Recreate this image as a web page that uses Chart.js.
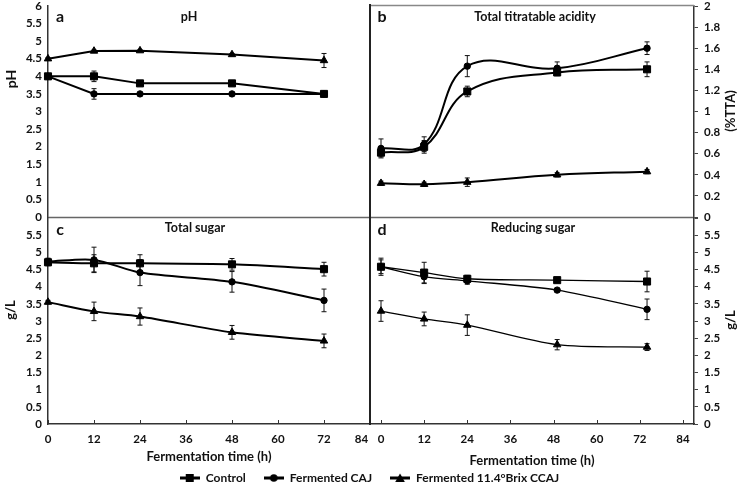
<!DOCTYPE html>
<html><head><meta charset="utf-8">
<script src="https://cdn.jsdelivr.net/npm/chart.js@4.4.1/dist/chart.umd.min.js"></script>
<style>
html,body{margin:0;padding:0;background:#fff;}
#wrap{position:relative;width:739px;height:492px;overflow:hidden;}
canvas{position:absolute;left:0;top:0;}
</style></head><body>
<div id="wrap">
<canvas id="pa" width="739" height="492"></canvas>
<canvas id="pb" width="739" height="492"></canvas>
<canvas id="pc" width="739" height="492"></canvas>
<canvas id="pd" width="739" height="492"></canvas>
<canvas id="leg" width="739" height="62" style="top:430px"></canvas>
</div>
<script>
// ---------- data ----------
const seriesNames = ['Control', 'Fermented CAJ', 'Fermented 11.4°Brix CCAJ'];
const timesLeft  = [0, 12, 24, 48, 72];
const timesRight = [0, 12, 24, 49, 74];
const xTickValues = [0, 12, 24, 36, 48, 60, 72, 84];
const yTicksPH = [0, 0.5, 1, 1.5, 2, 2.5, 3, 3.5, 4, 4.5, 5, 5.5, 6];
const yTicksTTA = [0, 0.2, 0.4, 0.6, 0.8, 1, 1.2, 1.4, 1.6, 1.8, 2];
const yTicksSugar = [0, 0.5, 1, 1.5, 2, 2.5, 3, 3.5, 4, 4.5, 5, 5.5, 6];

// (a) pH
const phControl = [4.0, 4.0, 3.8, 3.8, 3.5];
const phCaj     = [4.0, 3.5, 3.5, 3.5, 3.5];
const phBrix    = [4.5, 4.72, 4.73, 4.62, 4.45];
const phControlErr = [0.04, 0.15, 0.04, 0.04, 0.05];
const phCajErr     = [0.04, 0.15, 0.03, 0.03, 0.05];
const phBrixErr    = [0.03, 0.03, 0.03, 0.03, 0.2];

// (b) total titratable acidity (%TTA)
const ttaControl = [0.61, 0.665, 1.19, 1.37, 1.40];
const ttaCaj     = [0.65, 0.69, 1.43, 1.41, 1.60];
const ttaBrix    = [0.32, 0.31, 0.33, 0.40, 0.43];
const ttaControlErr = [0.04, 0.06, 0.05, 0.03, 0.07];
const ttaCajErr     = [0.09, 0.07, 0.10, 0.06, 0.06];
const ttaBrixErr    = [0.02, 0.02, 0.04, 0.02, 0.02];

// (c) total sugar (g/L)
const tsControl = [4.71, 4.68, 4.68, 4.65, 4.51];
const tsCaj     = [4.73, 4.78, 4.41, 4.14, 3.60];
const tsBrix    = [3.55, 3.28, 3.13, 2.67, 2.42];
const tsControlErr = [0.10, 0.25, 0.25, 0.17, 0.20];
const tsCajErr     = [0.10, 0.37, 0.38, 0.30, 0.33];
const tsBrixErr    = [0.05, 0.27, 0.25, 0.20, 0.20];

// (d) reducing sugar (g/L)
const rsControl = [4.58, 4.41, 4.23, 4.19, 4.15];
const rsCaj     = [4.58, 4.29, 4.17, 3.90, 3.34];
const rsBrix    = [3.29, 3.06, 2.88, 2.31, 2.24];
const rsControlErr = [0.25, 0.30, 0.10, 0.05, 0.30];
const rsCajErr     = [0.20, 0.20, 0.10, 0.05, 0.30];
const rsBrixErr    = [0.30, 0.20, 0.30, 0.15, 0.10];

// ---------- styling ----------
const FAM = 'Lato, "Open Sans", sans-serif';
const tickFont = {family: FAM, weight: 'bold', size: 11.5, lineHeight: 1.1};
const titleFont = {family: FAM, weight: 'bold', size: 13};
const TXT = '#111';
const pointStyles = ['rect', 'circle', 'triangle'];
const pointRadii = [5, 3.2, 4.3];

function fmt(v) { return String(Math.round(v * 10) / 10); }

function decor(o) {
  return {
    id: 'decor' + o.letter,
    beforeDatasetsDraw(chart) {
      const ctx = chart.ctx, ys = chart.scales.y;
      ctx.save();
      ctx.strokeStyle = '#111';
      ctx.lineWidth = 1;
      chart.data.datasets.forEach((ds, i) => {
        const meta = chart.getDatasetMeta(i);
        const errs = o.errors[i];
        meta.data.forEach((pt, j) => {
          const v = ds.data[j].y, e = errs[j];
          const y1 = ys.getPixelForValue(v + e), y2 = ys.getPixelForValue(v - e);
          const x = pt.x;
          ctx.beginPath();
          ctx.moveTo(x, y1); ctx.lineTo(x, y2);
          ctx.moveTo(x - 2.5, y1); ctx.lineTo(x + 2.5, y1);
          ctx.moveTo(x - 2.5, y2); ctx.lineTo(x + 2.5, y2);
          ctx.stroke();
        });
      });
      ctx.restore();
    },
    afterDraw(chart) {
      const ctx = chart.ctx, ca = chart.chartArea;
      ctx.save();
      if (o.bottomLine) {
        ctx.strokeStyle = '#666'; ctx.lineWidth = 1.5;
        ctx.beginPath(); ctx.moveTo(ca.left, ca.bottom + 0.5); ctx.lineTo(ca.right, ca.bottom + 0.5); ctx.stroke();
      }
      if (o.topLine) {
        ctx.strokeStyle = '#888'; ctx.lineWidth = 1.5;
        ctx.beginPath(); ctx.moveTo(ca.left, ca.top - 0.5); ctx.lineTo(ca.right, ca.top - 0.5); ctx.stroke();
      }
      if (o.leftDivider) {
        ctx.strokeStyle = '#222'; ctx.lineWidth = 2;
        ctx.beginPath(); ctx.moveTo(ca.left, o.divTop); ctx.lineTo(ca.left, o.divBottom); ctx.stroke();
      }
      if (o.showX) {
        const xs = chart.scales.x;
        ctx.strokeStyle = '#333'; ctx.lineWidth = 1;
        xTickValues.forEach(v => {
          const px = Math.round(xs.getPixelForValue(v)) + 0.5;
          ctx.beginPath(); ctx.moveTo(px, ca.bottom); ctx.lineTo(px, ca.bottom - 4); ctx.stroke();
        });
      }
      ctx.fillStyle = TXT;
      ctx.textBaseline = 'middle';
      ctx.textAlign = 'center';
      ctx.font = 'bold 16px ' + FAM;
      ctx.fillText(o.letter, ca.left + 12, ca.top + o.letterDy);
      ctx.font = 'bold 12.5px ' + FAM;
      ctx.fillText(o.title, o.titleX, ca.top + o.titleDy);
      ctx.font = 'bold ' + o.yTitleSize + 'px ' + FAM;
      ctx.translate(o.yTitleX, o.yTitleY);
      ctx.rotate(-Math.PI / 2);
      ctx.fillText(o.yTitle, 0, 0);
      ctx.restore();
    }
  };
}

function makePanel(id, o) {
  return new Chart(document.getElementById(id), {
    type: 'line',
    data: {
      datasets: o.series.map((vals, i) => ({
        label: seriesNames[i],
        data: o.x.map((t, k) => ({x: t, y: vals[k]})),
        borderColor: '#000', backgroundColor: '#000',
        borderWidth: o.lw, tension: o.tension,
        pointStyle: pointStyles[i], pointRadius: pointRadii[i], pointHoverRadius: pointRadii[i],
        pointBackgroundColor: '#000', pointBorderColor: '#000', pointBorderWidth: 1,
        clip: false
      }))
    },
    options: {
      responsive: false, animation: false, events: [],
      layout: {padding: o.pad},
      plugins: {legend: {display: false}, tooltip: {enabled: false}},
      scales: {
        x: {
          type: 'linear', min: o.xMin, max: o.xMax, display: o.showX,
          afterBuildTicks: s => { s.ticks = xTickValues.map(v => ({value: v})); },
          afterFit: s => { if (o.showX) s.height = o.xH; s.paddingLeft = 0; s.paddingRight = 0; },
          grid: {display: false, drawTicks: false},
          border: {display: o.showX, color: '#333', width: 1.5},
          ticks: {padding: 9, font: tickFont, color: TXT, maxRotation: 0, autoSkip: false,
                  callback: v => (o.shiftLast && v === 84) ? '84\u2003\u2003' : fmt(v)},
          title: {display: o.showX, text: 'Fermentation time (h)', font: titleFont, color: TXT, padding: {top: 0, bottom: 3}}
        },
        y: {
          type: 'linear', position: o.side, min: o.yMin, max: o.yMax,
          afterBuildTicks: s => { s.ticks = o.yTicks.map(v => ({value: v})); },
          afterFit: s => { s.width = o.yW; s.paddingTop = 0; s.paddingBottom = 0; },
          grid: {display: o.side === 'right', drawOnChartArea: false, drawTicks: o.side === 'right', tickLength: 4, color: '#444'},
          border: {display: true, color: '#333', width: 1.5},
          ticks: {padding: 6, font: tickFont, color: TXT, autoSkip: false,
                  callback: v => (o.hideTop && v === o.yMax) ? '' : fmt(v)}
        }
      }
    },
    plugins: [decor(o)]
  });
}

const rightMin = -3.06, rightMax = 87.06;

makePanel('pa', {
  letter: 'a', title: 'pH', titleX: 189, letterDy: 11, titleDy: 11,
  yTitle: 'pH', yTitleX: 11, yTitleY: 79, yTitleSize: 14,
  x: timesLeft, series: [phControl, phCaj, phBrix], errors: [phControlErr, phCajErr, phBrixErr],
  xMin: 0, xMax: 84, showX: false, yMin: 0, yMax: 6, yTicks: yTicksPH, hideTop: false,
  side: 'left', yW: 48, pad: {left: 0, top: 6, right: 369, bottom: 275},
  lw: 2, tension: 0, bottomLine: true
});
makePanel('pb', {
  letter: 'b', title: 'Total titratable acidity', titleX: 535, letterDy: 11, titleDy: 11,
  yTitle: '(%TTA)', yTitleX: 731, yTitleY: 111, yTitleSize: 13,
  x: timesRight, series: [ttaControl, ttaCaj, ttaBrix], errors: [ttaControlErr, ttaCajErr, ttaBrixErr],
  xMin: rightMin, xMax: rightMax, showX: false, yMin: 0, yMax: 2, yTicks: yTicksTTA, hideTop: false,
  side: 'right', yW: 45, pad: {left: 370, top: 6, right: 0, bottom: 275},
  lw: 2, tension: 0.4, bottomLine: true, topLine: true, leftDivider: true, divTop: 4, divBottom: 218
});
makePanel('pc', {
  letter: 'c', title: 'Total sugar', titleX: 195, letterDy: 12, titleDy: 10,
  yTitle: 'g/L', yTitleX: 11, yTitleY: 310, yTitleSize: 13,
  x: timesLeft, series: [tsControl, tsCaj, tsBrix], errors: [tsControlErr, tsCajErr, tsBrixErr],
  xMin: 0, xMax: 84, showX: true, xH: 44, shiftLast: true, yMin: 0, yMax: 6, yTicks: yTicksSugar, hideTop: true,
  side: 'left', yW: 48, pad: {left: 0, top: 218, right: 369, bottom: 24},
  lw: 2, tension: 0.3
});
makePanel('pd', {
  letter: 'd', title: 'Reducing sugar', titleX: 533, letterDy: 12, titleDy: 10,
  yTitle: 'g/L', yTitleX: 731, yTitleY: 320, yTitleSize: 13,
  x: timesRight, series: [rsControl, rsCaj, rsBrix], errors: [rsControlErr, rsCajErr, rsBrixErr],
  xMin: rightMin, xMax: rightMax, showX: true, xH: 48, yMin: 0, yMax: 6, yTicks: yTicksSugar, hideTop: true,
  side: 'right', yW: 45, pad: {left: 370, top: 218, right: 0, bottom: 20},
  lw: 1.3, tension: 0.3, leftDivider: true, divTop: 217, divBottom: 425
});

// ---------- legend ----------
function legendIcon(style) {
  const c = document.createElement('canvas');
  c.width = 20; c.height = 10;
  const g = c.getContext('2d');
  g.fillStyle = '#000';
  g.fillRect(0, 3.5, 20, 3);
  g.beginPath();
  if (style === 'rect') g.rect(6, 1, 8, 8);
  else if (style === 'circle') g.arc(10, 5, 3.8, 0, Math.PI * 2);
  else { g.moveTo(10, 0.5); g.lineTo(14.8, 9); g.lineTo(5.2, 9); g.closePath(); }
  g.fill();
  return c;
}
const legendIcons = pointStyles.map(legendIcon);

new Chart(document.getElementById('leg'), {
  type: 'line',
  data: {datasets: seriesNames.map(n => ({label: n, data: []}))},
  options: {
    responsive: false, animation: false, events: [],
    layout: {padding: {left: 0, right: 0, top: 24, bottom: 0}},
    scales: {x: {display: false}, y: {display: false}},
    plugins: {
      tooltip: {enabled: false},
      legend: {
        display: true, position: 'top', maxHeight: 60,
        labels: {
          usePointStyle: true, pointStyleWidth: 20, boxHeight: 10, padding: 18,
          color: TXT, font: {family: FAM, weight: 'bold', size: 12},
          generateLabels: chart => chart.data.datasets.map((ds, i) => ({
            text: ds.label, pointStyle: legendIcons[i], fillStyle: '#000', strokeStyle: '#000',
            lineWidth: 0, hidden: false, datasetIndex: i, fontColor: TXT
          }))
        }
      }
    }
  }
});
</script>
</body></html>
